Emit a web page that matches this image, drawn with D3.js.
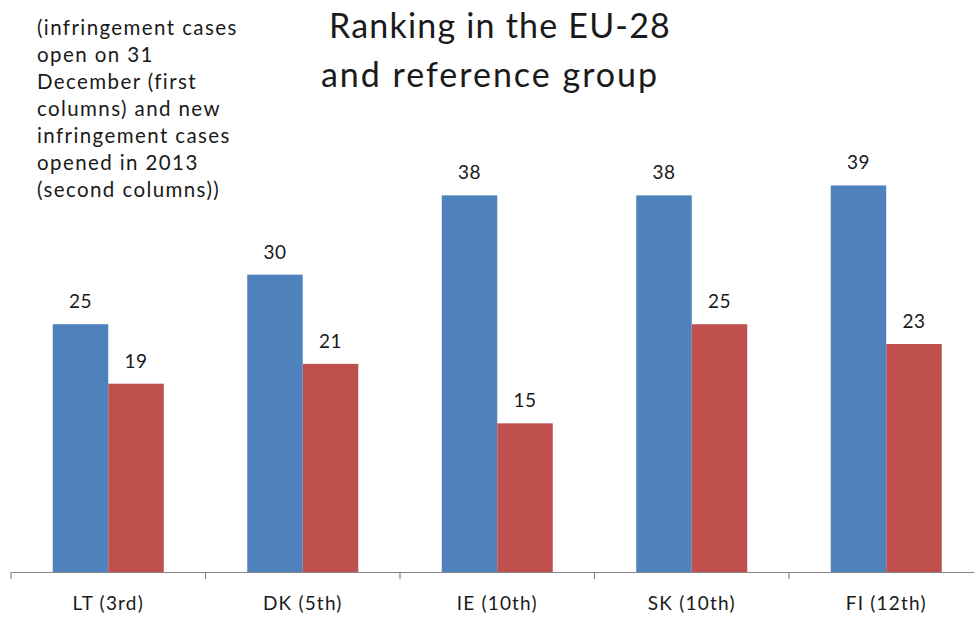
<!DOCTYPE html>
<html>
<head>
<meta charset="utf-8">
<script src="https://cdn.jsdelivr.net/npm/d3@7"></script>
<style>
  html, body { margin: 0; padding: 0; background: #fff; }
  svg { display: block; font-family: Lato, "Open Sans", sans-serif; }
</style>
</head>
<body>
<svg id="chart" width="974" height="617"></svg>
<script>
const categories = ["LT (3rd)", "DK (5th)", "IE (10th)", "SK (10th)", "FI (12th)"];
const seriesNames = ["Open on 31 December", "New in 2013"];
const openCases = [25, 30, 38, 38, 39];
const newCases = [19, 21, 15, 25, 23];
const titleLines = ["Ranking in the EU-28", "and reference group"];
const noteLines = ["(infringement cases", "open on 31", "December (first", "columns) and new", "infringement cases", "opened in 2013", "(second columns))"];
const colors = ["#4F81BD", "#C0504D"];

const svg = d3.select("#chart");
const baseY = 572;

const x0 = d3.scaleBand().domain(categories).range([11, 983.5]).paddingInner(0).paddingOuter(0);
const x1 = d3.scaleBand().domain(seriesNames).range([0, x0.bandwidth()]).paddingInner(0).paddingOuter(0.752);
const y = d3.scaleLinear().domain([0, 45]).range([baseY, 126]);

const data = categories.map((c, i) => ({cat: c, values: [openCases[i], newCases[i]]}));

const groups = svg.append("g").selectAll("g").data(data).join("g")
  .attr("transform", d => `translate(${x0(d.cat)},0)`);

groups.selectAll("rect").data(d => d.values.map((v, k) => ({s: seriesNames[k], v, k})))
  .join("rect")
  .attr("x", d => x1(d.s))
  .attr("y", d => y(d.v))
  .attr("width", x1.bandwidth())
  .attr("height", d => baseY - y(d.v))
  .attr("fill", d => colors[d.k]);

groups.selectAll("text.val").data(d => d.values.map((v, k) => ({s: seriesNames[k], v, k})))
  .join("text")
  .attr("class", "val")
  .attr("x", d => x1(d.s) + x1.bandwidth() / 2)
  .attr("y", d => y(d.v) - 16)
  .attr("text-anchor", "middle")
  .attr("font-size", 19)
  .attr("letter-spacing", 0.5)
  .attr("fill", "#1a1a1a")
  .text(d => d.v);

// axis
const axis = d3.axisBottom(x0).tickSize(0).tickSizeOuter(0).tickPadding(24);
const gAxis = svg.append("g").attr("transform", `translate(0,${baseY})`).call(axis);
gAxis.select(".domain").attr("stroke", "#868686").attr("stroke-width", 1.2);
gAxis.selectAll(".tick text")
  .attr("font-size", 19).attr("letter-spacing", 1.2)
  .attr("fill", "#1a1a1a").attr("font-family", "Lato, sans-serif")
  .attr("dy", "0.75em");
const bounds = categories.map(c => x0(c)).concat([x0.range()[1]]);
gAxis.selectAll("line.bound").data(bounds).join("line")
  .attr("class", "bound")
  .attr("x1", d => d).attr("x2", d => d)
  .attr("y1", 0).attr("y2", 7)
  .attr("stroke", "#868686").attr("stroke-width", 1.2);

// title
const titleX = [500, 490];
const titleSpacing = [1.2, 2];
svg.append("text")
  .attr("text-anchor", "middle")
  .attr("font-size", 34).attr("fill", "#1a1a1a")
  .selectAll("tspan").data(titleLines).join("tspan")
  .attr("x", (d, i) => titleX[i])
  .attr("y", (d, i) => 38 + i * 49)
  .attr("letter-spacing", (d, i) => titleSpacing[i])
  .text(d => d);

// note
svg.append("text")
  .attr("font-size", 20.5).attr("fill", "#1a1a1a")
  .attr("letter-spacing", 1.4)
  .selectAll("tspan").data(noteLines).join("tspan")
  .attr("x", 37)
  .attr("y", (d, i) => 35 + i * 27)
  .text(d => d);
</script>
</body>
</html>
